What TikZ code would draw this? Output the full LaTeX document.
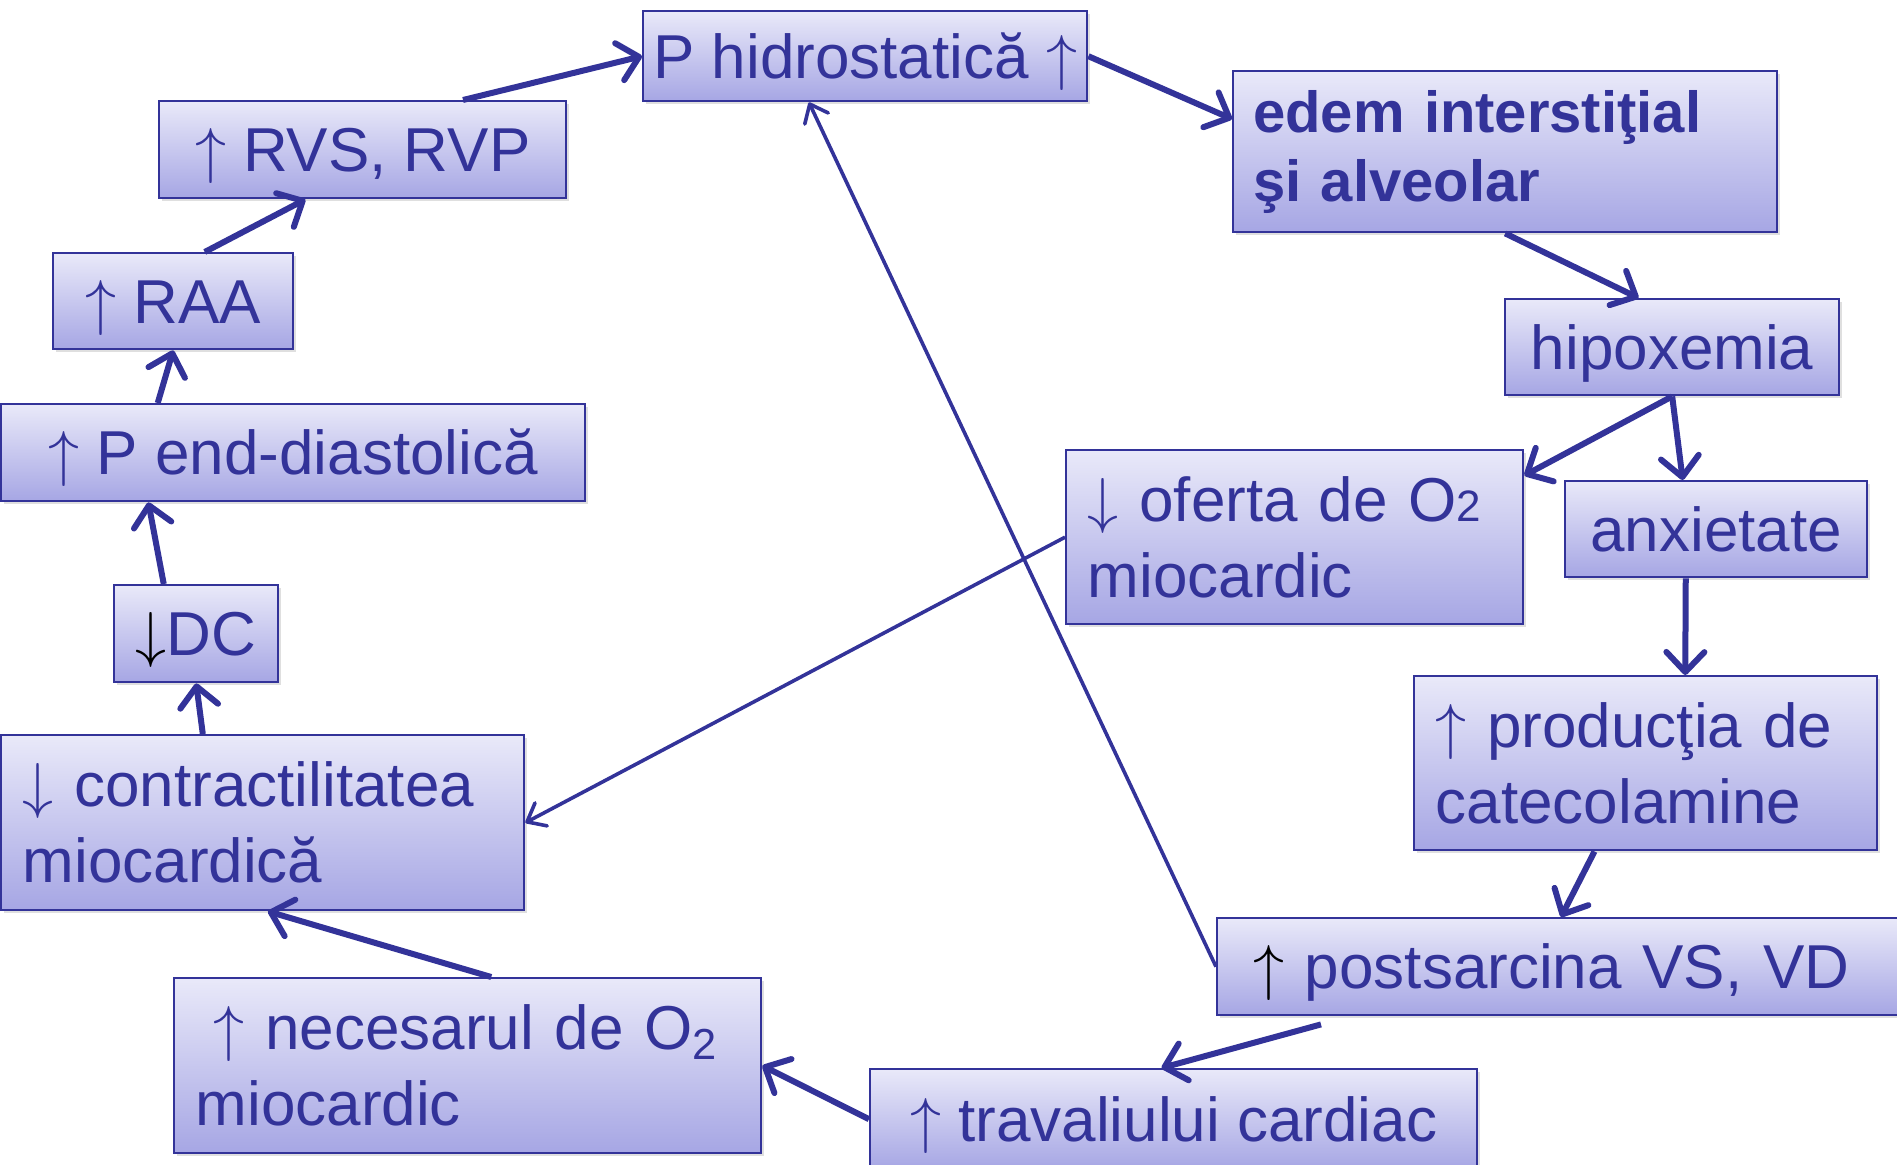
\RequirePackage{fix-cm}
\documentclass[tikz,border=0pt]{standalone}
\usepackage{fontspec}
\setmainfont{Liberation Sans}
\usetikzlibrary{arrows.meta,calc,shadows}
\definecolor{navy}{RGB}{51,51,153}
\definecolor{boxtop}{RGB}{233,233,249}
\definecolor{boxbot}{RGB}{166,166,228}
\tikzset{
	box/.style={draw=navy,line width=1.2pt,top color=boxtop,bottom color=boxbot,text=navy,
		anchor=north west,inner sep=0pt,font=\fontsize{31}{38}\selectfont,
		drop shadow={opacity=.25,shadow xshift=1.5pt,shadow yshift=-1.5pt}},
	oneline/.style={text height=25pt,text depth=3pt},
	flow/.style={navy,line width=3pt,-{Straight Barb[length=10pt,width=19pt,round]}},
	link/.style={navy,line width=1.8pt,-{Straight Barb[length=8pt,width=13pt,round]}}
}
\begin{document}
\begin{tikzpicture}[x=0.5pt,y=-0.5pt]
	\useasboundingbox (0,0) rectangle (1897,1164);
	\clip (0,0) rectangle (1897,1164);
	% boxes, placed by their top left corner
	\node[box,oneline,minimum width=222pt,minimum height=45pt] (hidro) at (642,10) {P hidrostatică $\uparrow$};
	\node[box,minimum width=272pt,minimum height=80.5pt,text width=252pt,align=left,
		font=\fontsize{29}{34.5}\selectfont\bfseries] (edem) at (1232,70)
		{edem interstiţial\\şi alveolar};
	\node[box,oneline,minimum width=167pt,minimum height=48pt] (hipox) at (1504,298) {hipoxemia};
	\node[box,oneline,minimum width=151pt,minimum height=48pt] (anx) at (1564,480) {anxietate};
	\node[box,minimum width=228.5pt,minimum height=87pt,text width=207pt,align=left] (oferta) at (1065,449)
		{$\downarrow$ oferta de O{\fontsize{22}{22}\selectfont 2}\\miocardic};
	\node[box,minimum width=231.5pt,minimum height=87pt,text width=210pt,align=left] (prod) at (1413,675)
		{$\uparrow$ producţia de\\catecolamine};
	\node[box,oneline,minimum width=350pt,minimum height=48.5pt,text width=314pt,align=left] (post) at (1216,917)
		{{\color{black}$\uparrow$} postsarcina VS, VD};
	\node[box,oneline,minimum width=303.5pt,minimum height=50pt] (trav) at (869,1068) {$\uparrow$ travaliului cardiac};
	\node[box,minimum width=293.5pt,minimum height=87.5pt,text width=272pt,align=left] (nec) at (173,977)
		{\hspace{9pt}$\uparrow$ necesarul de O\textsubscript{2}\\miocardic};
	\node[box,minimum width=261.5pt,minimum height=87.5pt,text width=240pt,align=left] (contr) at (0,734)
		{$\downarrow$ contractilitatea\\miocardică};
	\node[box,oneline,minimum width=82pt,minimum height=48.5pt] (dc) at (113,584) {{\color{black}$\downarrow$}DC};
	\node[box,oneline,minimum width=292pt,minimum height=48.5pt] (pend) at (0,403) {$\uparrow$ P end-diastolică};
	\node[box,oneline,minimum width=120pt,minimum height=48pt] (raa) at (52,252) {$\uparrow$ RAA};
	\node[box,oneline,minimum width=203.5pt,minimum height=48.5pt] (rvs) at (158,100) {$\uparrow$ RVS, RVP};
	% the cycle
	\draw[flow] ($(rvs.north west)!.745!(rvs.north east)$) -- (hidro.west);
	\draw[flow] (hidro.east) -- ($(edem.north west)!.3!(edem.south west)$);
	\draw[flow] (edem.south) -- ($(hipox.north west)!.4!(hipox.north east)$);
	\draw[flow] (hipox.south) -- ($(oferta.north east)!.15!(oferta.south east)$);
	\draw[flow] (hipox.south) -- ($(anx.north west)!.39!(anx.north east)$);
	\draw[flow] ($(anx.south west)!.4!(anx.south east)$) -- ($(prod.north west)!.585!(prod.north east)$);
	\draw[flow] ($(prod.south west)!.39!(prod.south east)$) -- ($(post.north west)+(345,0)$);
	\draw[flow] ($(post.south west)+(105,8)$) -- ($(trav.north west)!.48!(trav.north east)$);
	\draw[flow] (trav.west) -- (nec.east);
	\draw[flow] ($(nec.north west)!.54!(nec.north east)$) -- ($(contr.south west)!.51!(contr.south east)$);
	\draw[flow] ($(contr.north west)!.386!(contr.north east)$) -- (dc.south);
	\draw[flow] ($(dc.north west)!.305!(dc.north east)$) -- ($(pend.south west)!.253!(pend.south east)$);
	\draw[flow] ($(pend.north west)!.269!(pend.north east)$) -- (raa.south);
	\draw[flow] ($(raa.north west)!.63!(raa.north east)$) -- ($(rvs.south west)!.36!(rvs.south east)$);
	% thin links
	\draw[link] (post.west) -- ($(hidro.south west)!.374!(hidro.south east)$);
	\draw[link] (oferta.west) -- (contr.east);
\end{tikzpicture}
\end{document}
